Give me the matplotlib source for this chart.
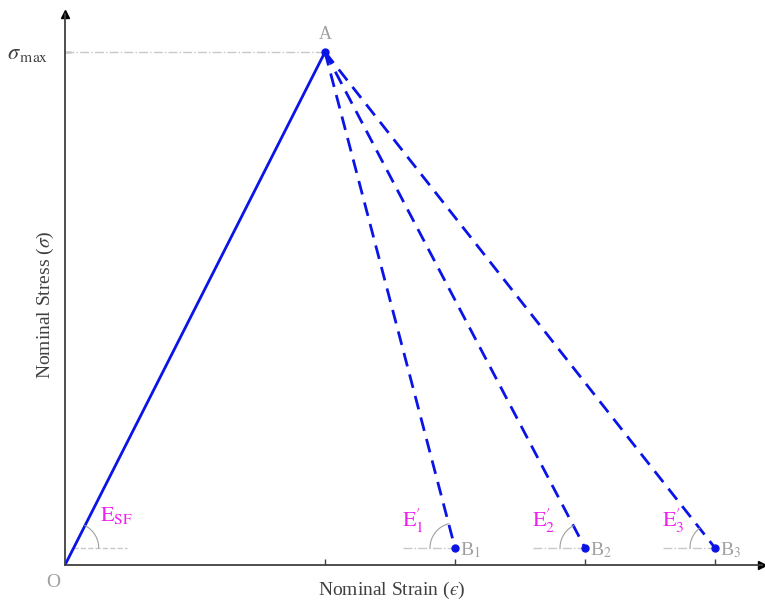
import numpy as np
import matplotlib.pyplot as plt

plt.rcParams['font.family'] = 'Liberation Serif'
plt.rcParams['mathtext.fontset'] = 'stix'

# points (strain units, stress units)
O = (0.0, 0.0)
A = (2.0, 30.0)
b_x = [3.0, 4.0, 5.0]
b_y = 1.0
b_names = ['B$_1$', 'B$_2$', 'B$_3$']
e_names = [r"$\mathrm{E}_1^{\prime}$", r"$\mathrm{E}_2^{\prime}$", r"$\mathrm{E}_3^{\prime}$"]

blue = '#0a14e6'
gray = '#a0a0a0'
mag = '#ee22ee'
dark = '#404040'

fig = plt.figure(figsize=(7.65, 6.01), dpi=100)
ax = fig.add_axes([65/765, 36/601, 697/765, 551/601])
ax.set_xlim(0, 697/130)
ax.set_ylim(0, 551/17.1)

for s in ['top', 'right']:
    ax.spines[s].set_visible(False)
for s in ['left', 'bottom']:
    ax.spines[s].set_color(dark)
    ax.spines[s].set_linewidth(1.3)
ax.plot(1, 0, '>', color='k', ms=6, transform=ax.get_yaxis_transform(), clip_on=False)
ax.plot(0, 1, '^', color='k', ms=6, transform=ax.get_xaxis_transform(), clip_on=False)

ax.set_xticks([A[0]] + b_x)
ax.set_xticklabels([])
ax.set_yticks([A[1]])
ax.set_yticklabels([r'$\sigma_{\,\mathrm{max}}$'], fontsize=16, color=dark)
ax.tick_params(direction='in', length=4, color=dark, width=1)
ax.tick_params(axis='y', pad=12)

# reference lines
ax.plot([0, A[0]], [A[1], A[1]], color='#c8c8c8', lw=1, ls='-.')
ax.plot([0.06, 0.48], [b_y, b_y], color='#c8c8c8', lw=1, ls='--')
for bx in b_x:
    ax.plot([bx - 0.4, bx], [b_y, b_y], color='#c8c8c8', lw=1, ls='-.')

# loading and unloading paths
ax.plot([O[0], A[0]], [O[1], A[1]], color=blue, lw=2)
for bx in b_x:
    ax.plot([A[0], bx], [A[1], b_y], color=blue, lw=2, ls=(0, (5, 3)))
ax.plot([A[0]] + b_x, [A[1]] + [b_y] * 3, 'o', color=blue, ms=5, clip_on=False)

# angle arcs (drawn in pixel space so they are round)
def arc(cx, cy, th1, th2, r=25):
    t = np.radians(np.linspace(th1, th2, 40))
    p0 = ax.transData.transform((cx, cy))
    pts = np.column_stack([p0[0] + r * np.cos(t), p0[1] + r * np.sin(t)])
    d = ax.transData.inverted().transform(pts)
    ax.plot(d[:, 0], d[:, 1], color=gray, lw=0.8)

def ang(p, q):
    a = ax.transData.transform(p)
    b = ax.transData.transform(q)
    return np.degrees(np.arctan2(b[1] - a[1], b[0] - a[0]))

x0 = A[0] * b_y / A[1]
arc(x0, b_y, 0, ang((x0, b_y), A))
for bx in b_x:
    arc(bx, b_y, ang((bx, b_y), A), 180)

# labels
ax.text(A[0], A[1] + 0.5, 'A', color=gray, fontsize=13, ha='center', va='bottom')
ax.text(-0.09, -0.5, 'O', color=gray, fontsize=14, ha='center', va='top', clip_on=False)
for bx, nm, en in zip(b_x, b_names, e_names):
    ax.text(bx + 0.04, b_y - 0.15, nm, color=gray, fontsize=14, ha='left', va='center')
    ax.text(bx - 0.41, b_y + 1.6, en, color=mag, fontsize=16, ha='left', va='center')
ax.text(0.27, b_y + 1.9, r'$\mathrm{E}_{\mathrm{SF}}$', color=mag, fontsize=16,
        ha='left', va='center')

fig.text(392/765, 1 - 590/601, 'Nominal Strain ($\u03f5$)', color=dark,
         fontsize=14, ha='center', va='center')
fig.text(45/765, 1 - 305/601, r'Nominal Stress ($\sigma$)', color=dark,
         fontsize=14, ha='center', va='center', rotation=90)

fig.savefig('out.png', dpi=100)
